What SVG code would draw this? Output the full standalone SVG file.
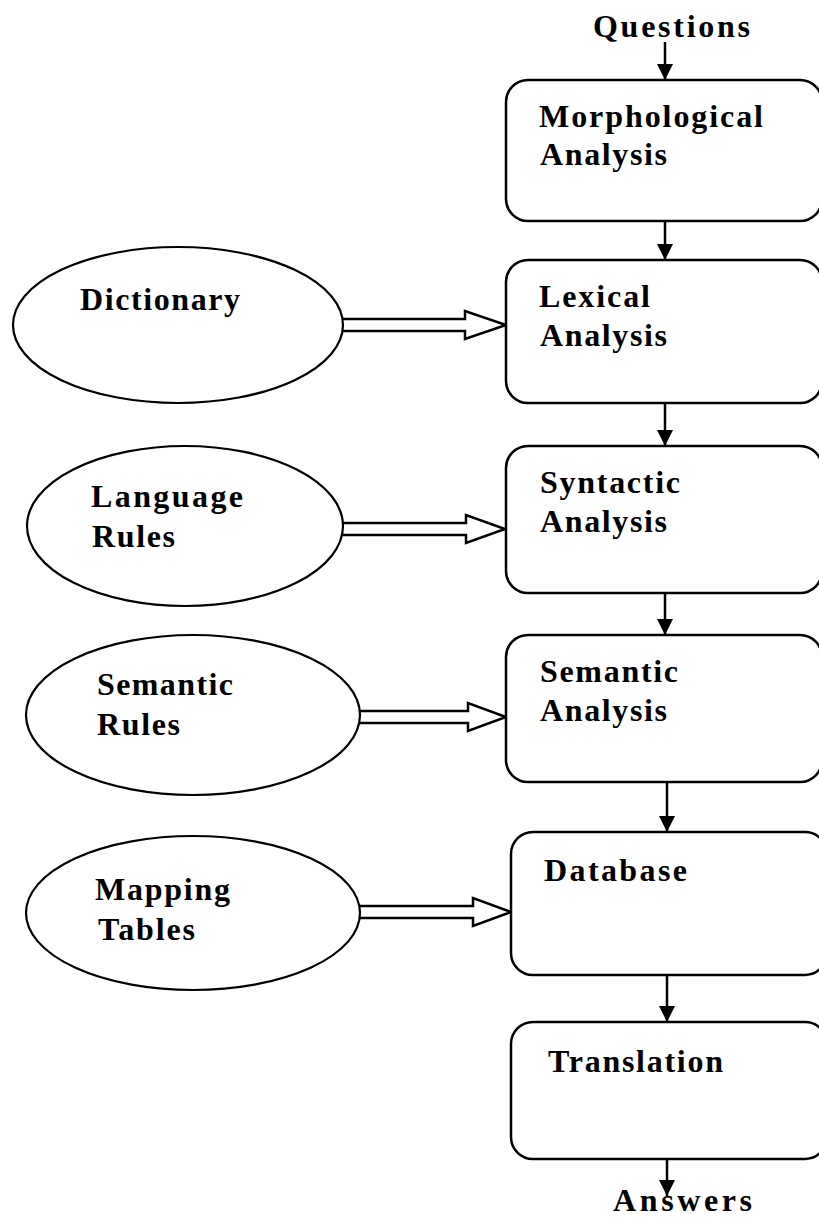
<svg xmlns="http://www.w3.org/2000/svg" width="819" height="1220" viewBox="0 0 819 1220">
<style>
  .t{font-family:"Liberation Serif","Times New Roman",serif;font-weight:bold;font-size:32px;fill:#000}
  .box{fill:#fff;stroke:#000;stroke-width:2.5}
  .ell{fill:#fff;stroke:#000;stroke-width:2.2}
  .v{stroke:#000;stroke-width:2.5;fill:none}
  .dbl{fill:#fff;stroke:#000;stroke-width:2.5;stroke-linejoin:miter}
</style>
<defs>
  <marker id="ah" markerUnits="userSpaceOnUse" markerWidth="18" markerHeight="18" viewBox="0 0 18 18" refX="17" refY="9" orient="auto">
    <path d="M1,1 L17,9 L1,17 Z" fill="#000"/>
  </marker>
</defs>
<rect width="819" height="1220" fill="#fff"/>

<g id="connectors">
  <line class="v" x1="665" y1="42" x2="665" y2="80" marker-end="url(#ah)"/>
  <line class="v" x1="665" y1="221" x2="665" y2="260" marker-end="url(#ah)"/>
  <line class="v" x1="665" y1="403" x2="665" y2="446" marker-end="url(#ah)"/>
  <line class="v" x1="665" y1="593" x2="665" y2="635" marker-end="url(#ah)"/>
  <line class="v" x1="667" y1="782" x2="667" y2="832" marker-end="url(#ah)"/>
  <line class="v" x1="667" y1="975" x2="667" y2="1022" marker-end="url(#ah)"/>
  <line class="v" x1="667" y1="1159" x2="667" y2="1196" marker-end="url(#ah)"/>
  <path class="dbl" d="M343,319 L465,319 L465,311 L506,325 L465,339 L465,331 L343,331"/>
  <path class="dbl" d="M343,523 L466,523 L466,515 L505,529 L466,543 L466,535 L343,535"/>
  <path class="dbl" d="M360,711 L468,711 L468,703 L506,717 L468,731 L468,723 L360,723"/>
  <path class="dbl" d="M360,906 L473,906 L473,898 L511,912 L473,926 L473,918 L360,918"/>
</g>

<g id="questions"><text class="t" x="593" y="37" textLength="157" lengthAdjust="spacing">Questions</text></g>

<g id="morphological">
  <rect class="box" x="506" y="80" width="316" height="141" rx="22"/>
  <text class="t" x="539" y="127" textLength="224" lengthAdjust="spacing">Morphological</text>
  <text class="t" x="540" y="165" textLength="127" lengthAdjust="spacing">Analysis</text>
</g>
<g id="lexical">
  <rect class="box" x="506" y="260" width="316" height="143" rx="22"/>
  <text class="t" x="539" y="307" textLength="111" lengthAdjust="spacing">Lexical</text>
  <text class="t" x="540" y="346" textLength="127" lengthAdjust="spacing">Analysis</text>
</g>
<g id="syntactic">
  <rect class="box" x="506" y="446" width="316" height="147" rx="22"/>
  <text class="t" x="540" y="493" textLength="140" lengthAdjust="spacing">Syntactic</text>
  <text class="t" x="540" y="532" textLength="127" lengthAdjust="spacing">Analysis</text>
</g>
<g id="semantic-analysis">
  <rect class="box" x="506" y="635" width="316" height="147" rx="22"/>
  <text class="t" x="540" y="682" textLength="138" lengthAdjust="spacing">Semantic</text>
  <text class="t" x="540" y="721" textLength="127" lengthAdjust="spacing">Analysis</text>
</g>
<g id="database">
  <rect class="box" x="511" y="832" width="316" height="143" rx="22"/>
  <text class="t" x="544" y="881" textLength="143" lengthAdjust="spacing">Database</text>
</g>
<g id="translation">
  <rect class="box" x="511" y="1022" width="316" height="137" rx="22"/>
  <text class="t" x="548" y="1072" textLength="175" lengthAdjust="spacing">Translation</text>
</g>
<g id="answers"><text class="t" x="613" y="1211" textLength="139" lengthAdjust="spacing">Answers</text></g>

<g id="dictionary">
  <ellipse class="ell" cx="178" cy="325" rx="165" ry="78"/>
  <text class="t" x="80" y="310" textLength="160" lengthAdjust="spacing">Dictionary</text>
</g>
<g id="language-rules">
  <ellipse class="ell" cx="185" cy="526" rx="158" ry="80"/>
  <text class="t" x="91" y="507" textLength="152" lengthAdjust="spacing">Language</text>
  <text class="t" x="92" y="547" textLength="83" lengthAdjust="spacing">Rules</text>
</g>
<g id="semantic-rules">
  <ellipse class="ell" cx="193" cy="715" rx="167" ry="80"/>
  <text class="t" x="97" y="695" textLength="136" lengthAdjust="spacing">Semantic</text>
  <text class="t" x="97" y="735" textLength="83" lengthAdjust="spacing">Rules</text>
</g>
<g id="mapping-tables">
  <ellipse class="ell" cx="193" cy="913" rx="167" ry="77"/>
  <text class="t" x="95" y="900" textLength="135" lengthAdjust="spacing">Mapping</text>
  <text class="t" x="98" y="940" textLength="97" lengthAdjust="spacing">Tables</text>
</g>
</svg>
